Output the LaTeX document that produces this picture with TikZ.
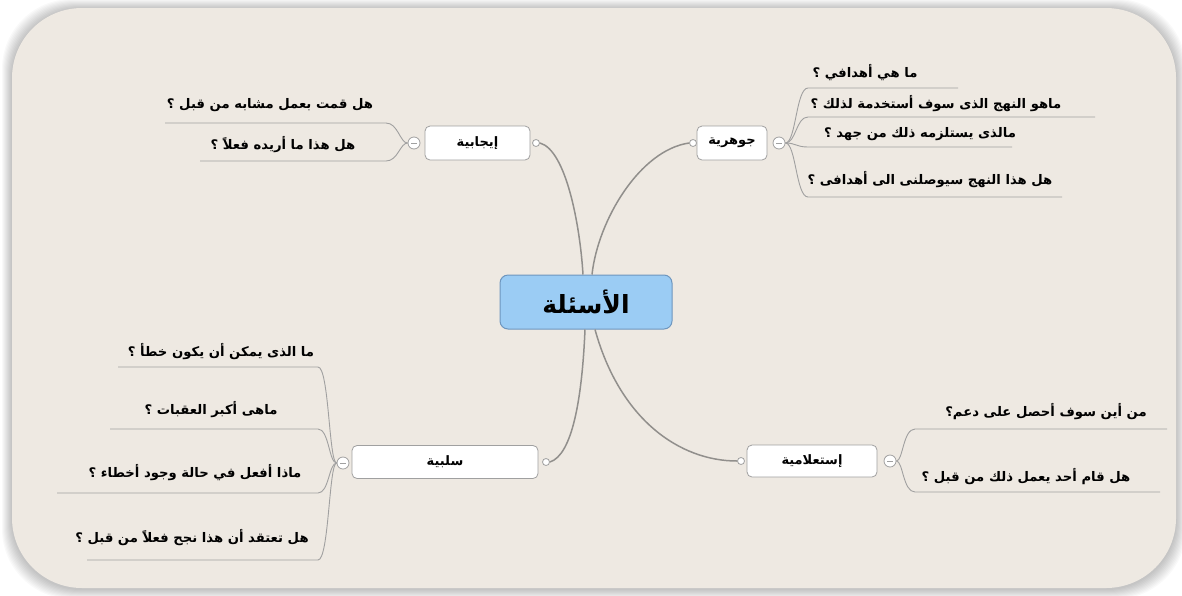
\documentclass[tikz,border=0pt]{standalone}
\usepackage{fontspec}
\setmainfont{DejaVu Sans}
\newfontfamily\arabicfont[Script=Arabic]{DejaVu Sans}
\TeXXeTstate=1
\newcommand{\artxt}[1]{{\arabicfont\bfseries\beginR #1\endR}}
\definecolor{bgbeige}{RGB}{238,233,226}
\definecolor{rootfill}{RGB}{155,204,244}
\definecolor{rootdraw}{RGB}{110,150,190}
\definecolor{linegray}{RGB}{145,143,140}
\definecolor{boxgray}{RGB}{160,160,160}
\begin{document}
\begin{tikzpicture}[x=1pt,y=-1pt,
  itemtxt/.style={font=\fontsize{13.2}{15}\selectfont, inner sep=0pt, anchor=center},
  rootbox/.style={draw=rootdraw, line width=1pt, fill=rootfill, rounded corners=8pt,
    minimum width=172pt, minimum height=54pt, inner sep=0pt, font=\fontsize{25}{28}\selectfont},
  branchbox/.style={draw=boxgray, line width=0.8pt, fill=white, rounded corners=5pt,
    minimum height=34pt, inner sep=0pt, font=\fontsize{13}{15}\selectfont},
  conndot/.style={circle, draw=boxgray, fill=white, line width=0.8pt, minimum size=7pt, inner sep=0pt},
  minusbtn/.style={circle, draw=boxgray, fill=white, line width=0.8pt, minimum size=12pt, inner sep=0pt,
    path picture={\draw[boxgray, line width=0.8pt] ([xshift=-3pt]path picture bounding box.center) -- ([xshift=3pt]path picture bounding box.center);}},
  mainline/.style={draw=linegray, line width=1.5pt},
  itemline/.style={draw=boxgray, line width=0.9pt}
]
\useasboundingbox (0,0) rectangle (1182,595);
\fill[white] (0,0) rectangle (1182,595);
% soft shadow
\foreach \i in {1,...,10}{
  \fill[black, opacity=0.024, rounded corners=70pt] (12-\i,8-\i+1) rectangle (1176+\i,588+\i+1);
}
\fill[bgbeige, rounded corners=70pt] (12,8) rectangle (1176,588);

% root
\node[rootbox] (root) at (586,302) {\artxt{الأسئلة}};

% branch: positive (top-left)
\node[branchbox, minimum width=105pt] (pos) at (477.5,143) {\artxt{إيجابية}};
\node[conndot] (posc) at (536,143) {};
\node[minusbtn] (posb) at (414,143) {};
\node[itemtxt] (p1) at (270,105) {\artxt{هل قمت بعمل مشابه من قبل ؟}};
\node[itemtxt] (p2) at (283,145) {\artxt{هل هذا ما أريده فعلاً ؟}};
\coordinate (p1l) at (165,123);
\coordinate (p2l) at (200,161);
\draw[itemline] (posb.west) .. controls (400,143) and (398,123) .. (386,123) -- (p1l);
\draw[itemline] (posb.west) .. controls (400,143) and (398,161) .. (386,161) -- (p2l);

% branch: essential (top-right)
\node[branchbox, minimum width=70pt] (ess) at (732,143) {\artxt{جوهرية}};
\node[conndot] (essc) at (693,143) {};
\node[minusbtn] (essb) at (779,143) {};
\node[itemtxt] (e1) at (865,73) {\artxt{ما هي أهدافي ؟}};
\node[itemtxt] (e2) at (936,104) {\artxt{ماهو النهج الذى سوف أستخدمة لذلك ؟}};
\node[itemtxt] (e3) at (920,134) {\artxt{مالذى يستلزمه ذلك من جهد ؟}};
\node[itemtxt] (e4) at (930,180) {\artxt{هل هذا النهج سيوصلنى الى أهدافى ؟}};
\coordinate (e1r) at (958,88);
\coordinate (e2r) at (1095,117);
\coordinate (e3r) at (1012,147);
\coordinate (e4r) at (1062,197);
\draw[itemline] (essb.east) .. controls (796,143) and (796,88) .. (808,88) -- (e1r);
\draw[itemline] (essb.east) .. controls (796,143) and (796,117) .. (808,117) -- (e2r);
\draw[itemline] (essb.east) .. controls (796,143) and (796,147) .. (808,147) -- (e3r);
\draw[itemline] (essb.east) .. controls (796,143) and (796,197) .. (808,197) -- (e4r);

% branch: negative (bottom-left)
\node[branchbox, minimum width=186pt, minimum height=33pt] (neg) at (445,462) {\artxt{سلبية}};
\node[conndot] (negc) at (546,462) {};
\node[minusbtn] (negb) at (343,463) {};
\node[itemtxt] (n1) at (221,352) {\artxt{ما الذى يمكن أن يكون خطأ ؟}};
\node[itemtxt] (n2) at (211,410) {\artxt{ماهى أكبر العقبات ؟}};
\node[itemtxt] (n3) at (195,473) {\artxt{ماذا أفعل في حالة وجود أخطاء ؟}};
\node[itemtxt] (n4) at (192,538) {\artxt{هل تعتقد أن هذا نجح فعلاً من قبل ؟}};
\coordinate (n1l) at (118,367);
\coordinate (n2l) at (110,429);
\coordinate (n3l) at (57,493);
\coordinate (n4l) at (87,560);
\draw[itemline] (negb.west) .. controls (329,463) and (329,367) .. (318,367) -- (n1l);
\draw[itemline] (negb.west) .. controls (329,463) and (329,429) .. (318,429) -- (n2l);
\draw[itemline] (negb.west) .. controls (329,463) and (329,493) .. (318,493) -- (n3l);
\draw[itemline] (negb.west) .. controls (329,463) and (329,560) .. (318,560) -- (n4l);

% branch: inquiry (bottom-right)
\node[branchbox, minimum width=130pt, minimum height=32pt] (inq) at (812,461) {\artxt{إستعلامية}};
\node[conndot] (inqc) at (741,461) {};
\node[minusbtn] (inqb) at (890,461) {};
\node[itemtxt] (q1) at (1046,412) {\artxt{من أين سوف أحصل على دعم؟}};
\node[itemtxt] (q2) at (1026,477) {\artxt{هل قام أحد يعمل ذلك من قبل ؟}};
\coordinate (q1r) at (1167,429);
\coordinate (q2r) at (1160,492);
\draw[itemline] (inqb.east) .. controls (903,461) and (903,429) .. (915,429) -- (q1r);
\draw[itemline] (inqb.east) .. controls (903,461) and (903,492) .. (915,492) -- (q2r);

% main connectors
\draw[mainline] (posc.east) .. controls (566,150) and (580,225) .. ([xshift=-3pt]root.north);
\draw[mainline] (essc.west) .. controls (640,150) and (598,220) .. ([xshift=6pt]root.north);
\draw[mainline] ([xshift=-1pt]root.south) .. controls (582,400) and (572,455) .. (negc.east);
\draw[mainline] ([xshift=9pt]root.south) .. controls (620,420) and (680,461) .. (inqc.west);
\end{tikzpicture}
\end{document}
